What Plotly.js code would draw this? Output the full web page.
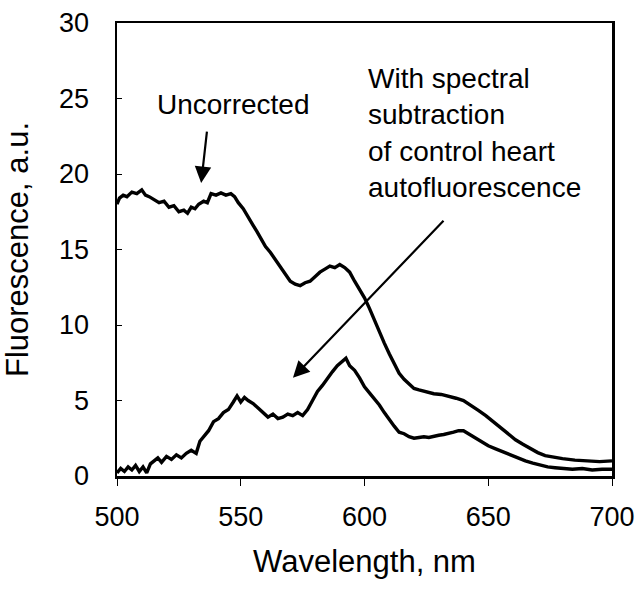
<!DOCTYPE html>
<html>
<head>
<meta charset="utf-8">
<script src="https://cdn.plot.ly/plotly-3.0.1.min.js"></script>
<style>
  html, body { margin:0; padding:0; background:#fff; }
  #chart { width:641px; height:591px; }
</style>
</head>
<body>
<div id="chart"></div>
<script>
// Uncorrected spectrum
const wlUncorrected = [500,501,502.5,504,506,508,510,511.5,513,515,517,519,521,523,525,527,528.5,530,531.5,533,535,536.5,538,540,542,544,546,547.5,549,551,553,555,556.5,558,560,562,564,566,568,570,572,574,576,578,580,582,584,586,588,590,592,594,596,598,600,602,604,606,608,610,612,614,616,618,620,622,625,628,631,634,637,640,643,646,649,652,655,658,661,664,667,670,673,676,680,685,690,695,700];
const fUncorrected = [18.0,18.4,18.6,18.5,18.8,18.7,18.95,18.6,18.5,18.3,18.1,18.2,17.8,17.9,17.5,17.6,17.4,17.8,17.7,18.0,18.2,18.1,18.7,18.6,18.75,18.6,18.7,18.5,18.1,17.7,17.2,16.6,16.2,15.8,15.2,14.8,14.3,13.8,13.3,12.9,12.7,12.6,12.8,12.9,13.2,13.5,13.7,13.9,13.8,14.0,13.8,13.5,12.9,12.4,11.8,11.1,10.3,9.6,8.8,8.1,7.4,6.8,6.4,6.1,5.8,5.7,5.55,5.45,5.4,5.3,5.15,5.0,4.7,4.35,4.0,3.6,3.2,2.8,2.4,2.1,1.8,1.55,1.35,1.25,1.15,1.05,1.0,0.95,1.0];

// After spectral subtraction of control heart autofluorescence
const wlCorrected = [500,501.5,503,504.5,506,507.5,509,510.5,512,513.5,515,516.5,518,520,522,524,526,528,530,532,533.5,535,537,539,541,543,545,547,548.5,550,551.5,553,555,557,559,561,563,565,567,569,571,573,575,577,579,581,583,585,587,589,591,592.5,594,596,598,600,602,604,606,608,610,612,614,616,618,620,622,624,626,628,630,632,634,636,638,640,642,644,646,648,650,653,656,659,662,665,668,671,674,677,680,684,688,692,696,700];
const fCorrected = [0.2,0.5,0.3,0.6,0.4,0.7,0.3,0.6,0.2,0.8,1.0,1.2,0.9,1.3,1.1,1.4,1.2,1.5,1.7,1.5,2.3,2.6,3.0,3.6,3.8,4.2,4.4,4.9,5.3,4.9,5.2,5.0,4.8,4.5,4.2,3.9,4.1,3.8,3.9,4.1,4.0,4.2,4.0,4.4,5.0,5.6,6.0,6.5,6.9,7.3,7.6,7.8,7.3,7.0,6.5,5.9,5.5,5.1,4.7,4.2,3.7,3.3,2.9,2.8,2.6,2.5,2.55,2.6,2.55,2.65,2.7,2.75,2.8,2.9,3.0,3.0,2.8,2.6,2.4,2.2,2.0,1.8,1.6,1.35,1.15,1.0,0.85,0.7,0.6,0.55,0.5,0.45,0.5,0.4,0.45,0.45];

const xTicks = [500,550,600,650,700];
const yTicks = [0,5,10,15,20,25,30];

const FONT = '"Liberation Sans", Arial, sans-serif';

const traces = [
  {type:'scatter', mode:'lines', x:wlUncorrected, y:fUncorrected, name:'Uncorrected',
   line:{color:'#000', width:3.4}, hoverinfo:'skip'},
  {type:'scatter', mode:'lines', x:wlCorrected, y:fCorrected, name:'Corrected',
   line:{color:'#000', width:3.4}, hoverinfo:'skip'}
];

const layout = {
  width:641, height:591,
  margin:{l:117, r:29, t:23, b:115},
  paper_bgcolor:'#fff', plot_bgcolor:'#fff',
  showlegend:false,
  font:{family:FONT, color:'#000'},
  xaxis:{
    range:[500,700], tickvals:xTicks, ticktext:xTicks.map(String),
    ticks:'outside', ticklen:7, tickwidth:1, tickcolor:'#000',
    showline:true, linewidth:2.5, linecolor:'#000', mirror:true,
    showgrid:false, zeroline:false,
    tickfont:{size:27, family:FONT, color:'#000'}, ticklabelstandoff:8,
    title:{text:'Wavelength, nm', font:{size:31, family:FONT, color:'#000'}, standoff:20}
  },
  yaxis:{
    range:[0,30], tickvals:yTicks, ticktext:yTicks.map(String),
    ticks:'inside', ticklen:5, tickwidth:1, tickcolor:'#000',
    showline:true, linewidth:2.5, linecolor:'#000', mirror:true,
    showgrid:false, zeroline:false,
    tickfont:{size:27, family:FONT, color:'#000'}, ticklabelstandoff:20,
    title:{text:'Fluorescence, a.u.', font:{size:31, family:FONT, color:'#000'}, standoff:22}
  },
  annotations:[
    {xref:'x', yref:'y', x:547, y:24.6, text:'Uncorrected', showarrow:false,
     font:{size:28, family:FONT, color:'#000'}, xanchor:'center', yanchor:'middle'},
    {xref:'x', yref:'y', x:534, y:19.4, ax:536.4, ay:22.9, axref:'x', ayref:'y',
     text:'', showarrow:true, arrowhead:2, arrowsize:1.5, arrowwidth:2.2, arrowcolor:'#000'},
    {xref:'x', yref:'y', x:600.7, y:22.7,
     text:'With spectral<br>subtraction<br>of control heart<br>autofluorescence',
     showarrow:false, align:'left', xanchor:'left', yanchor:'middle',
     font:{size:28, family:FONT, color:'#000'}},
    {xref:'x', yref:'y', x:571.1, y:6.5, ax:632.5, ay:17.0, axref:'x', ayref:'y',
     text:'', showarrow:true, arrowhead:2, arrowsize:1.5, arrowwidth:2.2, arrowcolor:'#000'}
  ]
};

Plotly.newPlot('chart', traces, layout, {displayModeBar:false, staticPlot:true});
</script>
</body>
</html>
